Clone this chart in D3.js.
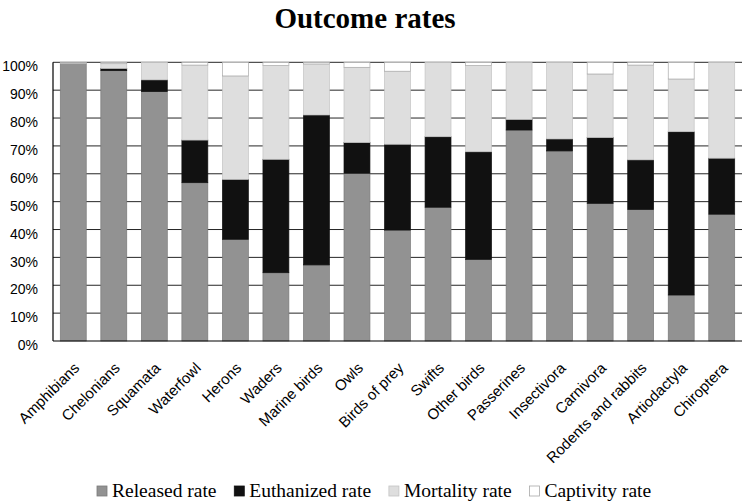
<!DOCTYPE html>
<html>
<head>
<meta charset="utf-8">
<script src="https://cdn.jsdelivr.net/npm/d3@7"></script>
<style>
  html, body { margin: 0; padding: 0; background: #fff; }
  svg { display: block; }
</style>
</head>
<body>
<svg id="chart" width="745" height="503"></svg>
<script>
const categories = ["Amphibians", "Chelonians", "Squamata", "Waterfowl", "Herons", "Waders",
  "Marine birds", "Owls", "Birds of prey", "Swifts", "Other birds", "Passerines",
  "Insectivora", "Carnivora", "Rodents and rabbits", "Artiodactyla", "Chiroptera"];
const releasedRate   = [99.6, 97.0, 89.5, 56.8, 36.5, 24.5, 27.3, 60.2, 39.8, 48.0, 29.3, 75.7, 68.2, 49.4, 47.2, 16.5, 45.5];
const euthanizedRate = [0.0, 0.8, 4.2, 15.3, 21.5, 40.7, 53.8, 11.0, 30.8, 25.3, 38.6, 3.8, 4.3, 23.6, 17.8, 58.6, 20.1];
const mortalityRate  = [0.2, 1.7, 6.3, 26.9, 37.1, 33.6, 18.3, 27.0, 26.2, 26.7, 30.9, 20.5, 27.5, 22.8, 34.0, 18.9, 34.4];
const captivityRate  = [0.2, 0.5, 0.0, 1.0, 4.9, 1.2, 0.6, 1.8, 3.2, 0.0, 1.2, 0.0, 0.0, 4.2, 1.0, 6.0, 0.0];
const seriesNames = ["Released rate", "Euthanized rate", "Mortality rate", "Captivity rate"];
const yTicks = [0, 10, 20, 30, 40, 50, 60, 70, 80, 90, 100];

const seriesKeys = ["released", "euthanized", "mortality", "captivity"];
const fills = { released: "#929292", euthanized: "#111111", mortality: "#dedede", captivity: "#ffffff" };
const strokes = { released: "#7a7a7a", euthanized: "#111111", mortality: "#c4c4c4", captivity: "#a8a8a8" };

const rows = categories.map((c, i) => ({
  category: c,
  released: releasedRate[i],
  euthanized: euthanizedRate[i],
  mortality: mortalityRate[i],
  captivity: captivityRate[i]
}));

const svg = d3.select("#chart");
const plotLeft = 53, plotRight = 742, plotTop = 62.3, plotBottom = 341;

const x = d3.scaleBand().domain(categories).range([plotLeft, plotRight]).paddingInner(0.36).paddingOuter(0.18);
const y = d3.scaleLinear().domain([0, 100]).range([plotBottom, plotTop]);

// title
svg.append("text")
  .attr("x", 365).attr("y", 28)
  .attr("text-anchor", "middle")
  .attr("font-family", "'Liberation Serif', 'Times New Roman', serif")
  .attr("font-weight", "bold")
  .attr("font-size", 29)
  .attr("fill", "#000")
  .text("Outcome rates");

// gridlines
svg.append("g").selectAll("line")
  .data(yTicks.filter(t => t > 0))
  .join("line")
  .attr("x1", plotLeft).attr("x2", plotRight)
  .attr("y1", d => y(d)).attr("y2", d => y(d))
  .attr("stroke", "#262626").attr("stroke-width", 1);

// y tick labels
const yAxis = d3.axisLeft(y).tickValues(yTicks).tickFormat(d => d + "%").tickSize(0).tickPadding(15);
const yg = svg.append("g").attr("transform", `translate(${plotLeft},0)`).call(yAxis);
yg.select(".domain").remove();
yg.selectAll("text")
  .attr("font-family", "'Liberation Sans', Arial, sans-serif")
  .attr("font-size", 14)
  .attr("fill", "#000")
  .attr("dy", "0.62em");

// stacked bars
const stack = d3.stack().keys(seriesKeys);
const stacked = stack(rows);
svg.append("g").selectAll("g")
  .data(stacked)
  .join("g")
  .attr("fill", d => fills[d.key])
  .attr("stroke", d => strokes[d.key])
  .attr("stroke-width", 0.7)
  .selectAll("rect")
  .data(d => d.filter(s => s[1] - s[0] > 0))
  .join("rect")
  .attr("x", d => x(d.data.category))
  .attr("width", x.bandwidth())
  .attr("y", d => y(d[1]))
  .attr("height", d => y(d[0]) - y(d[1]));

// axis lines
svg.append("line").attr("x1", plotLeft).attr("x2", plotLeft).attr("y1", plotTop).attr("y2", plotBottom)
  .attr("stroke", "#000").attr("stroke-width", 1.2);
svg.append("line").attr("x1", plotLeft).attr("x2", plotRight).attr("y1", plotBottom).attr("y2", plotBottom)
  .attr("stroke", "#000").attr("stroke-width", 1.2);

// x labels
const xAxis = d3.axisBottom(x).tickSize(0).tickPadding(0);
const xg = svg.append("g").attr("transform", `translate(0,${plotBottom})`).call(xAxis);
xg.select(".domain").remove();
xg.selectAll(".tick text")
  .attr("font-family", "'Liberation Sans', Arial, sans-serif")
  .attr("font-size", 15)
  .attr("fill", "#000")
  .attr("text-anchor", "end")
  .attr("dy", 0)
  .attr("y", 0)
  .attr("transform", "translate(7,28) rotate(-45)");

// legend
const legend = svg.append("g");
let lx = 97;
seriesNames.forEach((name, i) => {
  const g = legend.append("g");
  g.append("rect")
    .attr("x", lx).attr("y", 486).attr("width", 10).attr("height", 10)
    .attr("fill", fills[seriesKeys[i]])
    .attr("stroke", strokes[seriesKeys[i]]).attr("stroke-width", 0.8);
  const t = g.append("text")
    .attr("x", lx + 15).attr("y", 497)
    .attr("font-family", "'Liberation Serif', 'Times New Roman', serif")
    .attr("font-size", 19.5)
    .attr("fill", "#000")
    .text(name);
  const w = t.node().getComputedTextLength();
  lx = lx + 15 + w + 17.8;
});
</script>
</body>
</html>
